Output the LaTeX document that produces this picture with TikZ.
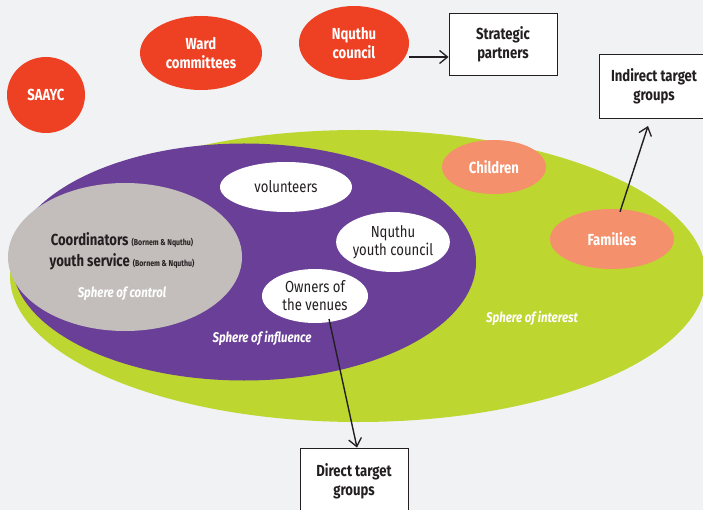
\documentclass[tikz,border=0pt]{standalone}
\usepackage{fontspec}
\setmainfont{Fira Sans}[FakeStretch=0.82]
\usepackage{xcolor}
\usepackage{tikz}
\usetikzlibrary{shapes.geometric,arrows.meta,positioning,calc}

\definecolor{bgGray}{HTML}{F1F2F4}
\definecolor{redOrg}{HTML}{EE4023}
\definecolor{limeGreen}{HTML}{BED630}
\definecolor{deepPurple}{HTML}{6A3F98}
\definecolor{warmGray}{HTML}{C3BEBB}
\definecolor{salmon}{HTML}{F4906B}
\definecolor{inkDark}{HTML}{231F20}

\begin{document}
\begin{tikzpicture}[
    x=1pt, y=-1pt,
    sphere/.style={ellipse, inner sep=0pt},
    actor/.style={ellipse, fill=redOrg, text=white, align=center, inner sep=0pt,
        font=\fontsize{16}{19}\selectfont\bfseries},
    target/.style={ellipse, fill=salmon, text=white, align=center, inner sep=0pt,
        font=\fontsize{16}{19}\selectfont\bfseries},
    inner/.style={ellipse, fill=white, text=inkDark, align=center, inner sep=0pt,
        font=\fontsize{16}{18}\selectfont},
    box/.style={rectangle, draw=inkDark, line width=0.9pt, fill=white, text=inkDark, align=center,
        font=\fontsize{16}{19}\selectfont\bfseries},
    spherelabel/.style={text=white, font=\fontsize{14}{16}\selectfont\itshape\bfseries},
    arrow/.style={-{Straight Barb[length=8pt,width=13pt,line width=1.3pt]}, line width=1.4pt, draw=inkDark}
]
    \useasboundingbox (0,0) rectangle (703,510);
    \fill[bgGray] (0,0) rectangle (703,510);
    \clip (0,0) rectangle (703,510);

    % spheres
    \node[sphere, fill=limeGreen, minimum width=696pt, minimum height=292pt] (interest) at (358,276) {};
    \node[sphere, fill=deepPurple, minimum width=464pt, minimum height=237pt] (influence) at (244,262) {};
    \node[sphere, fill=warmGray, minimum width=234pt, minimum height=148pt] (control) at (125,257) {};

    \node[spherelabel] (controlLbl) at (122,294) {Sphere of control};
    \node[spherelabel] (influenceLbl) at (262,338) {Sphere of influence};
    \node[spherelabel] (interestLbl) at (532,318) {Sphere of interest};

    \node[text=inkDark, align=center, font=\fontsize{16}{21}\selectfont\bfseries] (coord) at (122,251)
        {Coordinators {\fontsize{8.5}{9}\selectfont(Bornem \& Nquthu)}\\
         youth service {\fontsize{8.5}{9}\selectfont(Bornem \& Nquthu)}};

    % outside actors
    \node[actor, minimum width=78pt, minimum height=76pt] (saayc) at (46,95) {SAAYC};
    \node[actor, minimum width=122pt, minimum height=74pt] (ward) at (201,53) {Ward\\committees};
    \node[actor, minimum width=110pt, minimum height=74pt] (council) at (354,43) {Nquthu\\council};

    % inside actors
    \node[inner, minimum width=132pt, minimum height=50pt] (vol) at (286,187) {volunteers};
    \node[inner, minimum width=108pt, minimum height=60pt] (youth) at (393,242) {Nquthu\\youth council};
    \node[inner, minimum width=106pt, minimum height=54pt] (owners) at (315,296) {Owners of\\the venues};

    \node[target, minimum width=104pt, minimum height=54pt] (children) at (494,167) {Children};
    \node[target, minimum width=124pt, minimum height=60pt] (families) at (612,239) {Families};

    % boxes
    \node[box, minimum width=108pt, minimum height=62pt] (strategic) at (503,44) {Strategic\\partners};
    \node[box, minimum width=110pt, minimum height=64pt] (indirect) at (654,86) {Indirect target\\groups};
    \node[box, minimum width=108pt, minimum height=66pt] (direct) at (354,481) {Direct target\\groups};

    \draw[arrow] (council.east |- 0,57) -- (strategic.west |- 0,57);
    \draw[arrow] ($(families.north)+(8,3)$) -- (648,126);
    \draw[arrow] (329,319) -- (direct.north -| 357,0);
\end{tikzpicture}
\end{document}
